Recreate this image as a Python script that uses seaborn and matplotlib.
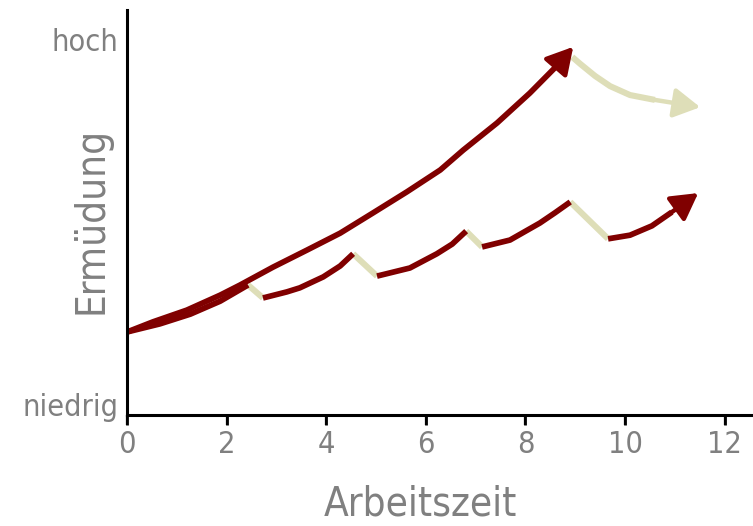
import matplotlib
matplotlib.use("Agg")
import matplotlib.pyplot as plt
import seaborn as sns

# Arbeitszeit (x) / Ermüdung (y)
upper_x = [0, 0.52, 1.20, 1.87, 2.27, 2.93, 3.61, 4.28, 4.94, 5.62, 6.29, 6.75, 7.43, 8.09, 8.63, 8.96]
upper_y = [2.05, 2.30, 2.59, 2.96, 3.21, 3.65, 4.07, 4.49, 4.99, 5.51, 6.05, 6.54, 7.21, 7.95, 8.62, 9.09]

rest_upper_x = [8.94, 9.10, 9.40, 9.70, 10.10, 10.60, 11.51]
rest_upper_y = [8.84, 8.67, 8.37, 8.12, 7.90, 7.78, 7.60]

# work segments with breaks in between
work_x = [
    [0, 0.66, 1.27, 1.87, 2.43],
    [2.73, 3.21, 3.47, 3.94, 4.28, 4.54],
    [5.02, 5.68, 6.22, 6.53, 6.81],
    [7.13, 7.69, 8.29, 8.59, 8.90],
    [9.66, 10.10, 10.54, 10.94, 11.47],
]
work_y = [
    [2.05, 2.25, 2.49, 2.81, 3.21],
    [2.89, 3.04, 3.14, 3.41, 3.68, 3.98],
    [3.43, 3.63, 3.98, 4.22, 4.54],
    [4.15, 4.32, 4.74, 4.99, 5.26],
    [4.35, 4.44, 4.67, 5.01, 5.48],
]
pause_x = [[2.43, 2.73], [4.54, 5.02], [6.81, 7.13], [8.90, 9.66]]
pause_y = [[3.21, 2.89], [3.98, 3.43], [4.54, 4.15], [5.26, 4.35]]

ytick_pos = [0.25, 9.26]
ytick_labels = ["niedrig", "hoch"]
xticks = [0, 2, 4, 6, 8, 10, 12]

red = "#800000"
beige = "#dedeb8"
grey = "#808080"

sns.set_style("ticks")
plt.rcParams["font.family"] = ["DejaVu Sans Condensed", "Liberation Sans Narrow", "DejaVu Sans"]
plt.rcParams["font.stretch"] = "condensed"

fig = plt.figure(figsize=(7.53, 5.26), dpi=100)
ax = fig.add_axes([0.1687, 0.211, 0.8313, 0.770])

line_kw = dict(sort=False, solid_capstyle="butt", solid_joinstyle="round")


def arrow(xs, ys, color):
    ax.annotate("", xy=(xs[-1], ys[-1]), xytext=(xs[-2], ys[-2]),
                arrowprops=dict(arrowstyle="-|>,head_length=1.6,head_width=0.9",
                                color=color, lw=3.2, shrinkA=0, shrinkB=0))


# pauses first so the red segments sit on top
for px, py in zip(pause_x, pause_y):
    sns.lineplot(x=px, y=py, ax=ax, color=beige, lw=4.4, **line_kw)

sns.lineplot(x=rest_upper_x[:-1], y=rest_upper_y[:-1], ax=ax, color=beige, lw=4.4, **line_kw)
arrow(rest_upper_x, rest_upper_y, beige)

for i, (wx, wy) in enumerate(zip(work_x, work_y)):
    if i == len(work_x) - 1:
        sns.lineplot(x=wx[:-1], y=wy[:-1], ax=ax, color=red, lw=4.1, **line_kw)
        arrow(wx, wy, red)
    else:
        sns.lineplot(x=wx, y=wy, ax=ax, color=red, lw=4.1, **line_kw)

sns.lineplot(x=upper_x[:-1], y=upper_y[:-1], ax=ax, color=red, lw=4.1, **line_kw)
arrow(upper_x, upper_y, red)

ax.set_xlim(0, 12.57)
ax.set_ylim(0, 10)
ax.set_xticks(xticks)
ax.set_xticklabels([str(t) for t in xticks], fontsize=22, color=grey)
ax.set_yticks(ytick_pos)
ax.set_yticklabels(ytick_labels, fontsize=22, color=grey)
ax.tick_params(axis="x", length=7, width=1.6, color="black", pad=4)
ax.tick_params(axis="y", left=False, length=0, pad=6)

# tick marks drawn explicitly under the x axis (axis-fraction y)
ax.vlines(xticks, -0.025, 0, transform=ax.get_xaxis_transform(),
          colors="black", lw=2, clip_on=False, zorder=5)

for s in ["top", "right"]:
    ax.spines[s].set_visible(False)
for s in ["left", "bottom"]:
    ax.spines[s].set_color("black")
    ax.spines[s].set_linewidth(2.2)

ax.set_xlabel("Arbeitszeit", fontsize=29, color=grey)
ax.xaxis.set_label_coords(0.468, -0.172)
ax.set_ylabel("Ermüdung", fontsize=29, color=grey)
ax.yaxis.set_label_coords(-0.025, 0.48)

fig.savefig("out.png", dpi=100)
